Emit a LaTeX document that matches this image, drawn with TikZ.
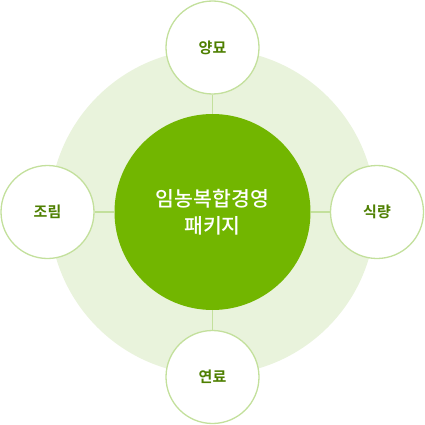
\documentclass[tikz,border=0pt]{standalone}
\usepackage{fontspec}
\newfontfamily\krfont{Noto Sans CJK KR Medium}
\newfontfamily\krbold{Noto Sans CJK KR Bold}
\definecolor{bgring}{HTML}{E9F3DC}
\definecolor{maingreen}{HTML}{72B600}
\definecolor{linegreen}{HTML}{C3E09C}
\definecolor{textgreen}{HTML}{4E7F00}
\begin{document}
\begin{tikzpicture}[x=1pt,y=-1pt,
  satellite/.style={circle,draw=linegreen,line width=1.3pt,fill=white,minimum size=93pt,inner sep=0pt,
    font=\krbold\fontsize{15}{18}\selectfont,text=textgreen},
  hub/.style={circle,fill=maingreen,minimum size=196pt,inner sep=0pt,align=center,
    font=\krfont\fontsize{20.5}{27}\selectfont,text=white},
  link/.style={draw=linegreen,line width=1.8pt}]
\useasboundingbox (0,0) rectangle (425,425);
\fill[bgring] (212.5,212) circle[radius=163];
\coordinate (c) at (212.5,212);
\node[hub] (hub) at (c) {임농복합경영\\패키지};
\node[satellite] (top) at (212.5,47.5) {양묘};
\node[satellite] (left) at (47.5,212) {조림};
\node[satellite] (right) at (377,212) {식량};
\node[satellite] (bottom) at (212.5,377) {연료};
\draw[link] (hub.north) -- (top.south);
\draw[link] (hub.west) -- (left.east);
\draw[link] (hub.east) -- (right.west);
\draw[link] (hub.south) -- (bottom.north);
\end{tikzpicture}
\end{document}
